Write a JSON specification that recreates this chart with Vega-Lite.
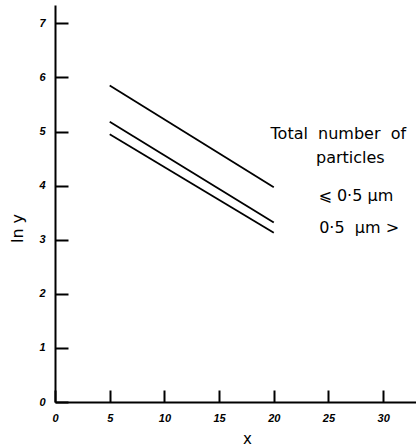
{
  "$schema": "https://vega.github.io/schema/vega-lite/v6.json",
  "width": 361,
  "height": 397,
  "autosize": "none",
  "padding": {"left": 55, "top": 5, "right": 0, "bottom": 45},
  "config": {
    "view": {"stroke": null},
    "font": "DejaVu Sans",
    "axis": {
      "grid": false,
      "domainColor": "black",
      "domainWidth": 2,
      "tickColor": "black",
      "tickWidth": 2,
      "labelColor": "black",
      "labelFont": "Liberation Sans",
      "labelFontStyle": "italic",
      "labelFontWeight": "bold",
      "labelFontSize": 11,
      "labelFlush": false,
      "labelOverlap": false,
      "titleColor": "black",
      "titleFont": "DejaVu Sans",
      "titleFontWeight": "normal"
    }
  },
  "datasets": {
    "lines": [
      {"series": "total", "x": 5, "lny": 5.85},
      {"series": "total", "x": 20, "lny": 3.97},
      {"series": "le05", "x": 5, "lny": 5.18},
      {"series": "le05", "x": 20, "lny": 3.32},
      {"series": "gt05", "x": 5, "lny": 4.95},
      {"series": "gt05", "x": 20, "lny": 3.13}
    ],
    "notes": [
      {"x": 25.9, "lny": 4.95, "label": "Total\u00a0\u00a0number\u00a0\u00a0of"},
      {"x": 27.0, "lny": 4.51, "label": "particles"},
      {"x": 27.5, "lny": 3.81, "label": "⩽\u00a00·5\u00a0μm"},
      {"x": 27.8, "lny": 3.22, "label": "0·5\u00a0\u00a0μm\u00a0>"}
    ]
  },
  "layer": [
    {
      "data": {"name": "lines"},
      "mark": {"type": "line", "color": "black", "strokeWidth": 1.8},
      "encoding": {
        "x": {
          "field": "x",
          "type": "quantitative",
          "scale": {"domain": [0, 33], "nice": false, "zero": false},
          "axis": {
            "values": [0, 5, 10, 15, 20, 25, 30],
            "tickSize": -12,
            "labelPadding": 22,
            "title": "x",
            "titleFontSize": 15,
            "titleX": 192,
            "titleY": 41,
            "titleBaseline": "alphabetic"
          }
        },
        "y": {
          "field": "lny",
          "type": "quantitative",
          "scale": {"domain": [0, 7.34], "nice": false, "zero": false},
          "axis": {
            "values": [0, 1, 2, 3, 4, 5, 6, 7],
            "tickSize": -13,
            "labelPadding": 23,
            "title": "ln y",
            "titleFontSize": 16,
            "titleAngle": -90,
            "titleX": -38,
            "titleY": 223,
            "titleAlign": "center",
            "titleBaseline": "middle"
          }
        },
        "detail": {"field": "series"}
      }
    },
    {
      "data": {"name": "notes"},
      "mark": {"type": "text", "fontSize": 16, "color": "black", "font": "DejaVu Sans", "align": "center", "baseline": "middle"},
      "encoding": {
        "x": {"field": "x", "type": "quantitative"},
        "y": {"field": "lny", "type": "quantitative"},
        "text": {"field": "label"}
      }
    }
  ]
}
